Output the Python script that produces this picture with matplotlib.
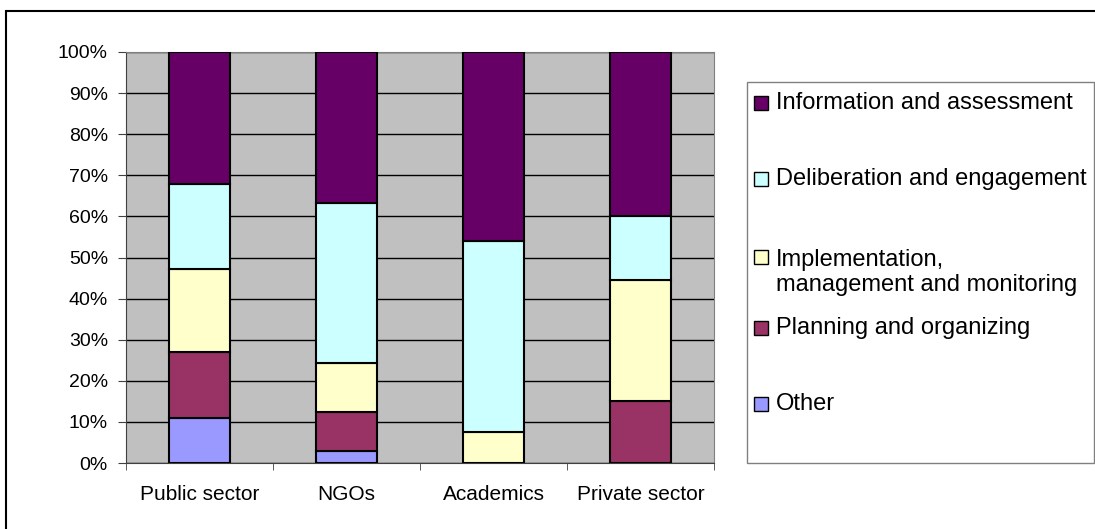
import matplotlib
matplotlib.use("Agg")
import matplotlib.pyplot as plt
from matplotlib.patches import Rectangle
from matplotlib.ticker import MultipleLocator, PercentFormatter
import numpy as np

plt.rcParams['font.family'] = ['Liberation Sans', 'DejaVu Sans']

# data (percent of each group)
groups = ['Public sector', 'NGOs', 'Academics', 'Private sector']
series = ['Other', 'Planning and organizing',
          'Implementation,\nmanagement and monitoring',
          'Deliberation and engagement', 'Information and assessment']
other = [10.9, 2.8, 0.0, 0.0]
planning = [16.2, 9.5, 0.0, 15.2]
implementation = [20.2, 12.0, 7.6, 29.3]
deliberation = [20.7, 39.0, 46.3, 15.7]
information = [32.0, 36.7, 46.1, 39.8]
colors = ['#9999FF', '#993366', '#FFFFCC', '#CCFFFF', '#660066']

values = [other, planning, implementation, deliberation, information]

W, H = 1095, 529
fig = plt.figure(figsize=(W / 100, H / 100), dpi=100)

# outer chart frame (runs off the right and bottom of the picture)
fig.patches.append(Rectangle((6 / W, -0.1), 1.2, 1 - 11 / H + 0.1,
                             transform=fig.transFigure, fill=False,
                             edgecolor='black', linewidth=1.5))

ax = fig.add_axes([126 / W, (H - 463) / H, 588 / W, 411 / H])
ax.set_facecolor('#C0C0C0')

x = np.arange(len(groups))
bottom = np.zeros(len(groups))
for vals, col, lab in zip(values, colors, series):
    ax.bar(x, vals, 0.41, bottom=bottom, color=col, edgecolor='black',
           linewidth=1.5, label=lab, zorder=3)
    bottom += np.array(vals)

ax.set_xlim(-0.5, len(groups) - 0.5)
ax.set_ylim(0, 100)
ax.yaxis.set_major_locator(MultipleLocator(10))
ax.yaxis.set_major_formatter(PercentFormatter(decimals=0))
ax.grid(axis='y', color='black', linewidth=1, zorder=1)
ax.set_axisbelow(True)

ax.set_xticks(x, groups)
ax.set_xticks(np.arange(len(groups) + 1) - 0.5, minor=True)
ax.tick_params(axis='x', which='major', length=0, pad=16, labelsize=15)
ax.tick_params(axis='x', which='minor', length=5, direction='out',
               color='#404040')
ax.tick_params(axis='y', length=6, direction='out', pad=7, labelsize=14,
               color='#404040')

for side in ['left', 'bottom']:
    ax.spines[side].set_color('#404040')
for side in ['top', 'right']:
    ax.spines[side].set_color('#808080')

# legend box, drawn by hand to keep Excel's even row spacing
fig.patches.append(Rectangle((747 / W, (H - 463) / H), (1094 - 747) / W,
                             (463 - 82) / H, transform=fig.transFigure,
                             facecolor='white', edgecolor='#808080',
                             linewidth=1))
rows_y = [103, 179, 257, 328, 404]
for yy, col, lab in zip(rows_y, colors[::-1], series[::-1]):
    fig.patches.append(Rectangle((754 / W, (H - yy - 7) / H), 14 / W,
                                 14 / H, transform=fig.transFigure,
                                 facecolor=col, edgecolor='black',
                                 linewidth=1))
    if '\n' in lab:
        fig.text(776 / W, (H - yy + 8) / H, lab, fontsize=17, va='top',
                 ha='left', linespacing=1.2)
    else:
        fig.text(776 / W, (H - yy) / H, lab, fontsize=17, va='center',
                 ha='left')

fig.savefig('out.png', dpi=100)
